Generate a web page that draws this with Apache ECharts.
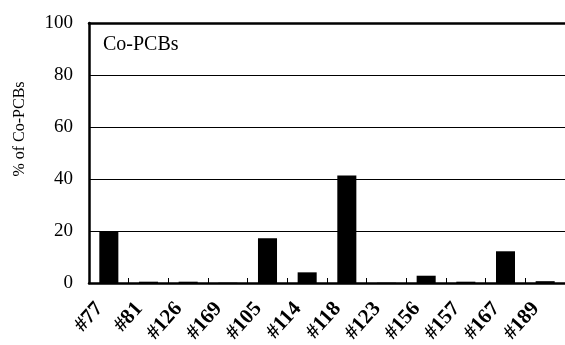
<!DOCTYPE html>
<html><head><meta charset="utf-8">
<script src="https://cdn.jsdelivr.net/npm/echarts@6/dist/echarts.min.js"></script>
<style>html,body{margin:0;padding:0;background:#fff}#c{width:565px;height:345px}</style>
</head><body><div id="c"></div>
<script>
const categories = ['#77','#81','#126','#169','#105','#114','#118','#123','#156','#157','#167','#189'];
const values = [20.0, 0.5, 0.5, 0.1, 17.2, 4.1, 41.3, 0.1, 2.8, 0.5, 12.2, 0.7];
const yTicks = [0, 20, 40, 60, 80, 100];
const FONT = '"Liberation Serif", "DejaVu Serif", serif';
const chart = echarts.init(document.getElementById('c'), null, {renderer: 'canvas'});
chart.setOption({
  animation: false,
  backgroundColor: '#fff',
  grid: {left: 89, right: 0, top: 23, bottom: 62, containLabel: false, outerBoundsMode: 'none'},
  xAxis: [{
    type: 'category', data: categories,
    axisLine: {lineStyle: {color: '#000', width: 2.5}},
    axisTick: {show: true, inside: true, length: 5, lineStyle: {color: '#000', width: 1}},
    axisLabel: {rotate: 48, margin: 12, padding: [0, 14, 0, 0], color: '#000', fontFamily: FONT, fontSize: 21, fontWeight: 'bold'}
  }, {
    type: 'category', data: categories, position: 'top',
    axisLine: {lineStyle: {color: '#000', width: 2.5}},
    axisTick: {show: false}, axisLabel: {show: false}
  }],
  yAxis: {
    type: 'value', min: yTicks[0], max: yTicks[yTicks.length-1], interval: 20,
    axisLine: {show: true, lineStyle: {color: '#000', width: 2.5}},
    axisTick: {show: false},
    axisLabel: {color: '#000', fontFamily: FONT, fontSize: 19, margin: 16},
    splitLine: {lineStyle: {color: '#000', width: 1.2}}
  },
  series: [{
    type: 'bar', data: values, barWidth: '48%', xAxisIndex: 0,
    itemStyle: {color: '#000'}
  }],
  graphic: [{
    type: 'text', left: 103, top: 35,
    style: {text: 'Co-PCBs', fill: '#000', font: '20px ' + FONT}
  }, {
    type: 'text', x: 20, y: 129, rotation: Math.PI / 2,
    style: {text: '% of Co-PCBs', fill: '#000', font: '16px ' + FONT, align: 'center', verticalAlign: 'middle'}
  }]
});
</script></body></html>
